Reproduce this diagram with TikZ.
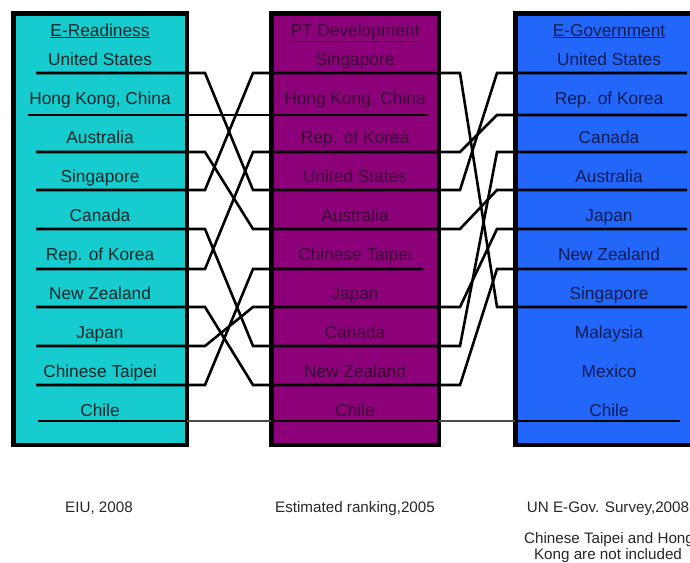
\documentclass[tikz,border=0pt]{standalone}
\usepackage{fontspec}
\setmainfont{Liberation Sans}
\definecolor{cyanbox}{RGB}{22,204,206}
\definecolor{purplebox}{RGB}{140,0,122}
\definecolor{bluebox}{RGB}{34,102,250}
\definecolor{cyantext}{RGB}{12,40,42}
\definecolor{purpletext}{RGB}{58,0,52}
\definecolor{bluetext}{RGB}{14,28,82}
\begin{document}
\begin{tikzpicture}[x=1pt,y=-1pt,
  panel/.style={draw=black,line width=4.5pt},
  rowlabel/.style={anchor=base,inner sep=0pt,font=\fontsize{17.3}{20}\selectfont},
  note/.style={anchor=base,inner sep=0pt,font=\fontsize{15.2}{18}\selectfont,text=black!85},
  link/.style={draw=black,line width=2.6pt,line join=miter},
  thinlink/.style={draw=black!70,line width=1.3pt},
]
\useasboundingbox (0,0) rectangle (690,562);
\clip (0,0) rectangle (690,562);
% panels
\draw[panel,fill=cyanbox] (13.25,13.25) rectangle (186.75,444.75);
\draw[panel,fill=purplebox] (271.25,13.25) rectangle (438.75,444.75);
\draw[panel,fill=bluebox] (515.25,13.25) rectangle (712,444.75);
% titles
\node[rowlabel,text=cyantext] (tER) at (100,36) {\underline{E-Readiness}};
\node[rowlabel,text=purpletext] (tPT) at (355,36) {\underline{PT Development}};
\node[rowlabel,text=bluetext] (tEG) at (609,36) {\underline{E-Government}};
% row labels
\foreach \t [count=\i] in {United States,{Hong Kong, China},Australia,Singapore,Canada,Rep. of Korea,New Zealand,Japan,Chinese Taipei,Chile}
  \node[rowlabel,text=cyantext] (er\i) at (100,{65+39*(\i-1)}) {\t};
\foreach \t [count=\i] in {Singapore,{Hong Kong, China},Rep. of Korea,United States,Australia,Chinese Taipei,Japan,Canada,New Zealand,Chile}
  \node[rowlabel,text=purpletext] (pt\i) at (355,{65+39*(\i-1)}) {\t};
\foreach \t [count=\i] in {United States,Rep. of Korea,Canada,Australia,Japan,New Zealand,Singapore,Malaysia,Mexico,Chile}
  \node[rowlabel,text=bluetext] (eg\i) at (609,{65+39*(\i-1)}) {\t};
% line coordinates
\foreach \y [count=\i] in {73,115,152,190,229,269,307,346,385,421} {
  \coordinate (ea\i) at (36,\y);
  \coordinate (eb\i) at (205,\y);
  \coordinate (pa\i) at (253,\y);
  \coordinate (pb\i) at (460,\y);
  \coordinate (ga\i) at (497,\y);
  \coordinate (gb\i) at (687,\y);
}
\coordinate (hkA) at (28,115);
\coordinate (hkB) at (428,115);
\coordinate (tpB) at (423,269);
\coordinate (chA) at (38,421);
\coordinate (chB) at (680,421);
\coordinate (chE1) at (187,421);
\coordinate (chP0) at (271,421);
\coordinate (chP1) at (439,421);
\coordinate (chG0) at (515,421);
% connectors
\draw[link] (ea1) -- (eb1) -- (pa4) -- (pb4) -- (ga1) -- (gb1); % United States
\draw[link] (hkA) -- (hkB);                                     % Hong Kong
\draw[link] (ea3) -- (eb3) -- (pa5) -- (pb5) -- (ga4) -- (gb4); % Australia
\draw[link] (ea4) -- (eb4) -- (pa1) -- (pb1) -- (ga7) -- (gb7); % Singapore
\draw[link] (ea5) -- (eb5) -- (pa8) -- (pb8) -- (ga3) -- (gb3); % Canada
\draw[link] (ea6) -- (eb6) -- (pa3) -- (pb3) -- (ga2) -- (gb2); % Korea
\draw[link] (ea7) -- (eb7) -- (pa9) -- (pb9) -- (ga6) -- (gb6); % New Zealand
\draw[link] (ea8) -- (eb8) -- (pa7) -- (pb7) -- (ga5) -- (gb5); % Japan
\draw[link] (ea9) -- (eb9) -- (pa6) -- (tpB);                   % Chinese Taipei
\draw[thinlink] (chA) -- (chB);                                 % Chile
\draw[link,line width=2pt] (chA) -- (chE1);
\draw[link,line width=2pt] (chP0) -- (chP1);
\draw[link,line width=2pt] (chG0) -- (chB);
% sources
\node[note] (s1) at (99,512.5) {EIU, 2008};
\node[note] (s2) at (355,512.5) {Estimated ranking,2005};
\node[note] (s3) at (608,512.5) {UN E-Gov. Survey,2008};
\node[note] (s4) at (609,543.5) {Chinese Taipei and Hong};
\node[note] (s5) at (608,559.5) {Kong are not included};
\end{tikzpicture}
\end{document}
